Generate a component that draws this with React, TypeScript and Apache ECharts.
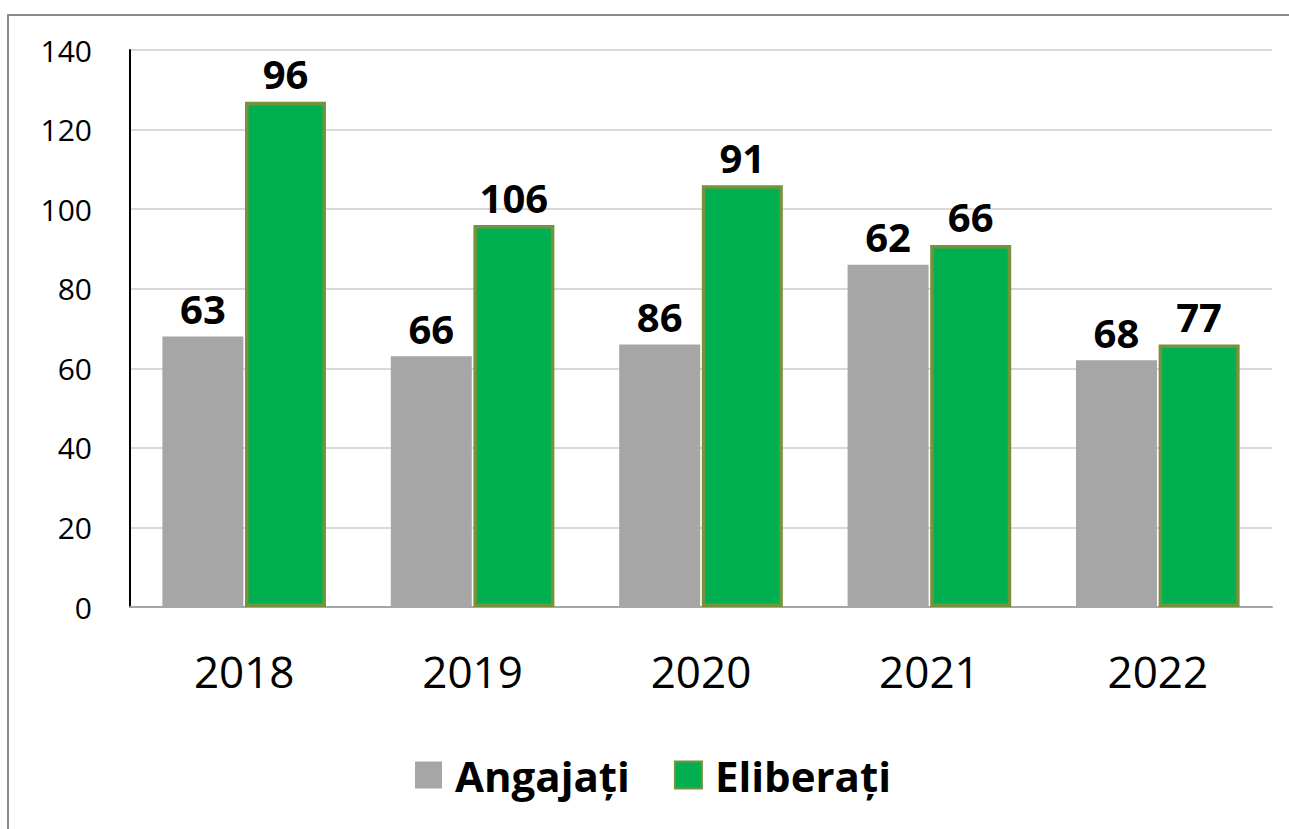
import React, { useEffect, useRef } from "react";
import * as echarts from "echarts";

const categories = ["2018", "2019", "2020", "2021", "2022"];
const angajatiValues = [68, 63, 66, 86, 62];
const eliberatiValues = [127, 96, 106, 91, 66];
const angajatiLabels = ["63", "66", "86", "62", "68"];
const eliberatiLabels = ["96", "106", "91", "66", "77"];
const seriesNames = ["Angajați", "Eliberați"];

const FONT = "'Open Sans', 'Noto Sans', sans-serif";

export default function App() {
  const ref = useRef<HTMLDivElement>(null);
  useEffect(() => {
    if (!ref.current) return;
    const chart = echarts.init(ref.current, undefined, { renderer: "svg" });
    const labelStyle = (labels: string[]) => ({
      show: true,
      position: "top" as const,
      distance: 8,
      fontFamily: FONT,
      fontWeight: "bold" as const,
      fontSize: 40,
      color: "#000",
      formatter: (p: any) => labels[p.dataIndex],
    });
    chart.setOption({
      animation: false,
      backgroundColor: "#fff",
      graphic: [
        {
          type: "rect",
          shape: { x: 8, y: 15, width: 1300, height: 840 },
          style: { fill: "none", stroke: "#8c8c8c", lineWidth: 2 },
          silent: true,
          z: -1,
        },
      ],
      grid: { left: 130, right: 17, top: 50, bottom: 222, containLabel: false },
      legend: {
        data: seriesNames,
        bottom: 28,
        left: 410,
        icon: "rect",
        itemWidth: 27,
        itemHeight: 27,
        itemGap: 44,
        textStyle: {
          fontFamily: FONT,
          fontWeight: "bold",
          fontSize: 42,
          color: "#000",
          padding: [0, 0, 0, 8],
        },
      },
      xAxis: {
        type: "category",
        data: categories,
        axisLine: { show: true, lineStyle: { color: "#a6a6a6", width: 2 } },
        axisTick: { show: false },
        axisLabel: { fontFamily: FONT, fontSize: 44, color: "#000", margin: 42 },
      },
      yAxis: {
        type: "value",
        min: 0,
        max: 140,
        interval: 20,
        axisLine: { show: true, lineStyle: { color: "#000", width: 2 } },
        axisTick: { show: false },
        splitLine: { lineStyle: { color: "#d9d9d9", width: 2 } },
        axisLabel: { fontFamily: FONT, fontSize: 30, color: "#000", margin: 38 },
      },
      series: [
        {
          name: seriesNames[0],
          type: "bar",
          data: angajatiValues,
          barWidth: 81,
          barGap: "2%",
          itemStyle: { color: "#a6a6a6" },
          label: labelStyle(angajatiLabels),
        },
        {
          name: seriesNames[1],
          type: "bar",
          data: eliberatiValues,
          barWidth: 81,
          itemStyle: { color: "#00b050", borderColor: "#76923c", borderWidth: 3.5 },
          label: labelStyle(eliberatiLabels),
        },
      ],
    });
    return () => chart.dispose();
  }, []);
  return (
    <div
      ref={ref}
      style={{ position: "fixed", left: 0, top: 0, width: 1289, height: 829 }}
    />
  );
}
